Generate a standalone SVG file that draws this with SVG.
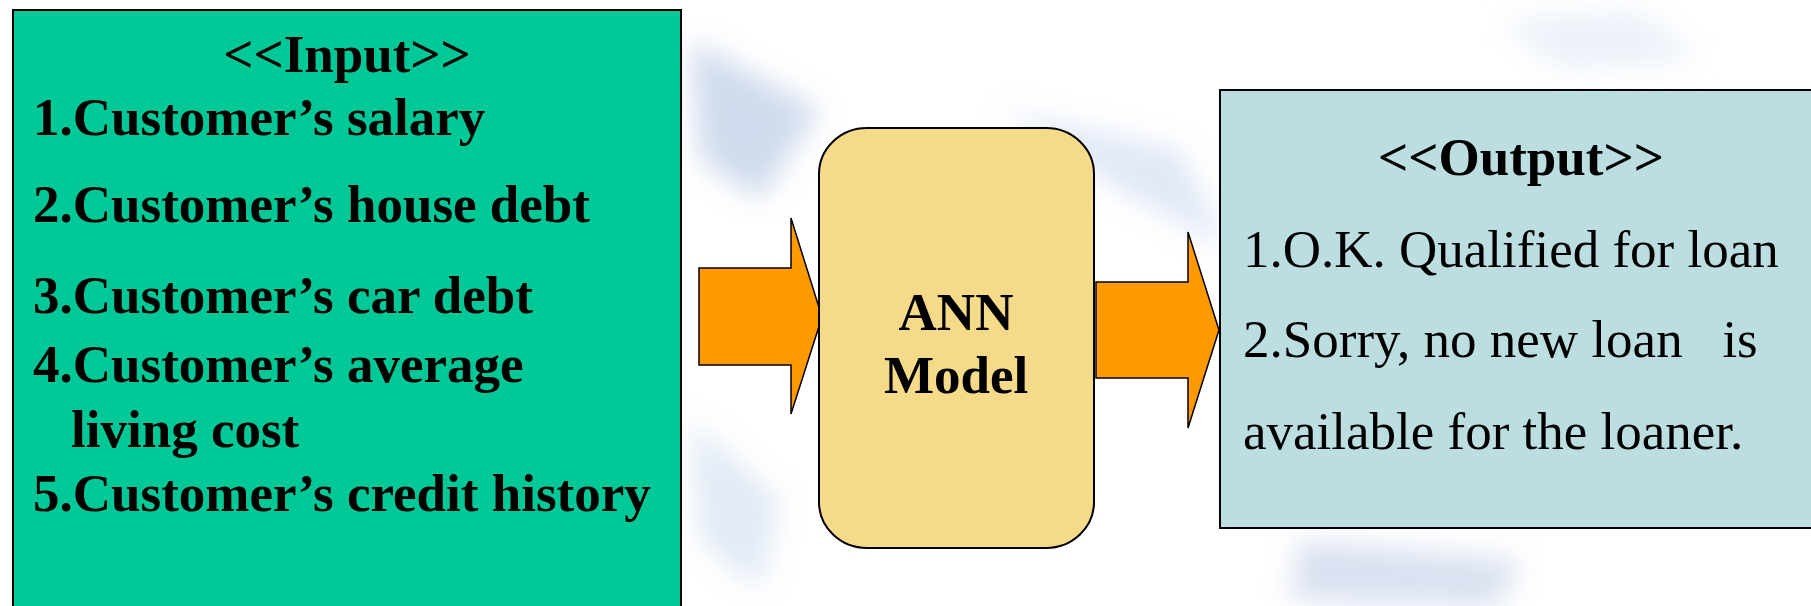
<svg xmlns="http://www.w3.org/2000/svg" width="1811" height="606" viewBox="0 0 1811 606">
<defs>
<style>
.bold{font-family:"Liberation Serif","Times New Roman",serif;font-weight:bold;font-size:53px;fill:#000}
.reg{font-family:"Liberation Serif","Times New Roman",serif;font-size:53px;fill:#000;white-space:pre}
.box{stroke:#000;stroke-width:2}
.arrow{fill:#FF9900;stroke:#000;stroke-width:1.5;stroke-linejoin:miter}
</style>
<filter id="blur" x="-20%" y="-20%" width="140%" height="140%"><feGaussianBlur stdDeviation="14"/></filter>
</defs>
<rect x="0" y="0" width="1811" height="606" fill="#ffffff"/>
<g id="background" filter="url(#blur)" opacity="0.55">
<path d="M690 40 L820 110 L760 200 L700 160 Z" fill="#A9BEDD"/>
<path d="M1000 110 L1180 150 L1230 250 L1120 190 Z" fill="#C6D6F0"/>
<path d="M690 420 L780 500 L760 590 L700 540 Z" fill="#C9D9EE"/>
<path d="M1300 540 L1520 560 L1500 606 L1290 600 Z" fill="#B9C9E4"/>
<path d="M1500 20 L1640 10 L1700 60 L1560 70 Z" fill="#DCE6F5"/>
</g>
<g id="input">
<rect class="box" x="13" y="10" width="668" height="620" fill="#00C896"/>
<text class="bold" x="347" y="72" text-anchor="middle">&lt;&lt;Input&gt;&gt;</text>
<text class="bold" x="33" y="135">1.Customer’s salary</text>
<text class="bold" x="33" y="222">2.Customer’s house debt</text>
<text class="bold" x="33" y="313">3.Customer’s car debt</text>
<text class="bold" x="33" y="382">4.Customer’s average</text>
<text class="bold" x="71" y="447">living cost</text>
<text class="bold" x="33" y="511">5.Customer’s credit history</text>
</g>
<g id="connectors">
<path class="arrow" d="M699 268 L791 268 L791 218 L822 317 L791 414 L791 365 L699 365 Z"/>
<path class="arrow" d="M1096 282 L1188 282 L1188 232 L1219 330 L1188 428 L1188 378 L1096 378 Z"/>
</g>
<g id="ann">
<rect class="box" x="819" y="128" width="275" height="420" rx="48" ry="46" fill="#F5DA8A"/>
<text class="bold" x="956" y="330" text-anchor="middle">ANN</text>
<text class="bold" x="956" y="393" text-anchor="middle">Model</text>
</g>
<g id="output">
<rect class="box" x="1220" y="90" width="620" height="438" fill="#BCDEE0"/>
<text class="bold" x="1521" y="175" text-anchor="middle">&lt;&lt;Output&gt;&gt;</text>
<text class="reg" x="1243" y="267">1.O.K. Qualified for loan</text>
<text class="reg" x="1243" y="357">2.Sorry, no new loan   is</text>
<text class="reg" x="1243" y="449">available for the loaner.</text>
</g>
</svg>
